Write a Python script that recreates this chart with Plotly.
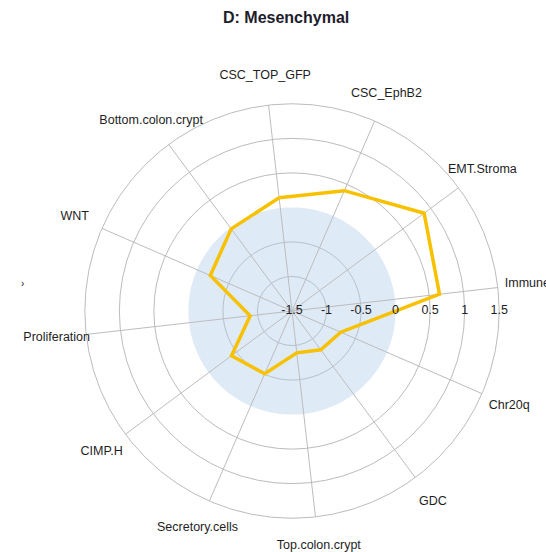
import plotly.graph_objects as go

# Signature scores for the mesenchymal subtype
categories = [
    "CSC_TOP_GFP", "CSC_EphB2", "EMT.Stroma", "Immune", "Chr20q", "GDC",
    "Top.colon.crypt", "Secretory.cells", "CIMP.H", "Proliferation", "WNT",
    "Bottom.colon.crypt",
]
scores = [0.15, 0.40, 0.88, 0.65, -0.73, -0.80, -0.89, -0.51, -0.41, -0.89, -0.21, -0.02]
radial_ticks = [-1.5, -1, -0.5, 0, 0.5, 1, 1.5]
tick_labels = ["-1.5", "-1", "-0.5", "0", "0.5", "1", "1.5"]
ring_values = [-1, -0.5, 0.5, 1, 1.5]

r_min, r_max = -1.5, 1.5
r_label = 1.93             # radius where category names sit
r_outer = 1.99             # extra room beyond the outer ring for the names
rotation = 96.5            # screen angle of the first spoke
step = 360 / len(categories)
theta = [i * step for i in range(len(categories))]

grid = "#bcbcbd"
font_family = "Liberation Sans, Arial"
fig = go.Figure()

# shaded disc covering everything below zero
circle_theta = list(range(0, 361))
fig.add_trace(go.Scatterpolar(
    r=[0] * len(circle_theta), theta=circle_theta, mode="lines",
    fill="toself", fillcolor="rgba(170,200,235,0.38)",
    line=dict(color="rgba(0,0,0,0)", width=0), hoverinfo="skip", showlegend=False,
))

# spokes from the centre to the outer ring
spoke_r, spoke_t = [], []
for t in theta:
    spoke_r += [r_min, r_max, None]
    spoke_t += [t, t, None]
fig.add_trace(go.Scatterpolar(
    r=spoke_r, theta=spoke_t, mode="lines", line=dict(color=grid, width=1),
    hoverinfo="skip", showlegend=False, connectgaps=False,
))

# score profile
fig.add_trace(go.Scatterpolar(
    r=scores + scores[:1], theta=theta + theta[:1], mode="lines",
    line=dict(color="#f8c100", width=3.5), showlegend=False,
))

# category labels just outside the outer ring
fig.add_trace(go.Scatterpolar(
    r=[r_label] * len(categories), theta=theta, mode="text", text=categories,
    textfont=dict(family=font_family, size=12.5, color="#1e1e1e"),
    textposition="middle center", cliponaxis=False, showlegend=False, hoverinfo="skip",
))

# radial tick labels along the horizontal
fig.add_trace(go.Scatterpolar(
    r=radial_ticks, theta=[rotation] * len(radial_ticks), mode="text", text=tick_labels,
    textfont=dict(family=font_family, size=12.5, color="#1e1e1e"),
    textposition="middle center", cliponaxis=False, showlegend=False, hoverinfo="skip",
))

fig.update_layout(
    width=546, height=552,
    paper_bgcolor="white",
    margin=dict(l=51.2, r=13.2, t=70.2, b=0.2),
    title=dict(
        text="<b>D: Mesenchymal</b>", x=0.524, y=0.969, xanchor="center", yanchor="middle",
        xref="container", yref="container",
        font=dict(family=font_family, size=16, color="#1d1d2b"),
    ),
    polar=dict(
        bgcolor="white",
        radialaxis=dict(
            range=[r_min, r_outer], tickvals=ring_values, showticklabels=False,
            ticks="", showline=False, gridcolor=grid, gridwidth=1,
        ),
        angularaxis=dict(
            type="linear", thetaunit="degrees", rotation=rotation, direction="clockwise",
            showticklabels=False, ticks="", showline=False, showgrid=False,
        ),
    ),
    annotations=[dict(
        text="›", x=-0.067, y=0.558, xref="paper", yref="paper", showarrow=False,
        font=dict(family=font_family, size=10, color="#222"),
    )],
)

fig.write_html("out.html")
